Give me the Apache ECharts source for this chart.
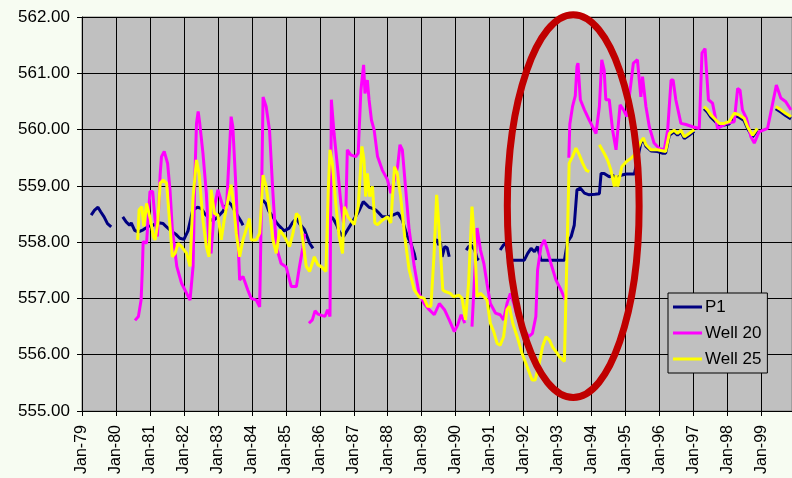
<!DOCTYPE html>
<html>
<head>
<meta charset="utf-8">
<script src="https://cdn.jsdelivr.net/npm/echarts/dist/echarts.min.js"></script>
<style>
  html, body { margin: 0; padding: 0; background: #f7fcf2; }
  #chart { width: 792px; height: 478px; }
</style>
</head>
<body>
<div id="chart"></div>
<script>
// Water levels (ft) against time in decimal years; null marks a break in the record.
const yearLabels = ['Jan-79','Jan-80','Jan-81','Jan-82','Jan-83','Jan-84','Jan-85','Jan-86','Jan-87','Jan-88',
  'Jan-89','Jan-90','Jan-91','Jan-92','Jan-93','Jan-94','Jan-95','Jan-96','Jan-97','Jan-98','Jan-99'];

const p1Years = [
  1979.27,1979.37,1979.47,1979.55,1979.65,1979.75,1979.86,1980.0,
  1980.20,1980.30,1980.40,1980.45,1980.55,1980.65,1980.80,1980.95,1981.10,1981.20,1981.39,1981.49,1981.62,1981.78,1981.88,
  1982.00,1982.12,1982.26,1982.40,1982.51,1982.62,1982.75,1982.85,1983.00,1983.15,1983.30,1983.40,1983.55,1983.69,1983.74,1984.0,
  1984.32,1984.42,1984.50,1984.62,1984.72,1984.82,1984.95,1985.10,1985.20,1985.31,1985.40,1985.55,1985.70,1985.80,1986.1,
  1986.35,1986.42,1986.50,1986.57,1986.64,1986.70,1986.85,1987.00,1987.15,1987.28,1987.35,1987.45,1987.55,1987.65,1987.75,1987.84,
  1988.00,1988.15,1988.30,1988.43,1988.50,1988.58,1988.68,1988.78,1988.82,1989.1,
  1989.36,1989.45,1989.50,1989.55,1989.60,1989.68,1989.75,1989.81,1990.0,
  1990.31,1990.38,1990.45,1990.56,1990.63,1990.68,1991.0,
  1991.31,1991.41,1991.48,1991.56,1991.71,1991.85,1992.02,1992.12,1992.22,1992.32,1992.41,1992.51,1992.76,1993.00,1993.20,
  1993.29,1993.40,1993.49,1993.57,1993.67,1993.79,1993.93,1994.10,1994.23,1994.28,1994.37,1994.52,1994.62,1994.72,1994.87,
  1995.02,1995.26,1995.31,1995.45,1995.53,1995.60,1995.75,1995.94,1996.10,1996.18,
  1996.29,1996.43,1996.53,1996.63,1996.73,1996.87,1997.02,1997.15,
  1997.31,1997.41,1997.51,1997.66,1997.76,1997.90,1998.05,1998.20,1998.34,1998.49,1998.59,1998.74,1998.88,1999.1,
  1999.42,1999.57,1999.71,1999.87
];
const p1Levels = [
  558.48,558.57,558.62,558.54,558.45,558.33,558.27,null,
  558.45,558.36,558.30,558.34,558.21,558.18,558.22,558.28,558.30,558.35,558.33,558.27,558.20,558.13,558.07,
  558.05,558.20,558.57,558.62,558.60,558.50,558.42,558.38,558.45,558.55,558.72,558.66,558.50,558.36,558.30,null,
  558.75,558.68,558.55,558.45,558.35,558.28,558.20,558.25,558.35,558.42,558.33,558.22,557.98,557.89,null,
  558.45,558.39,558.30,558.19,558.13,558.10,558.25,558.40,558.55,558.72,558.68,558.62,558.60,558.57,558.51,558.45,
  558.45,558.48,558.52,558.39,558.25,558.10,557.98,557.80,557.68,null,
  557.98,558.05,557.95,558.01,557.74,557.92,557.90,557.74,null,
  557.86,557.92,557.95,557.86,557.71,557.68,null,
  557.86,557.95,557.98,557.68,557.68,557.68,557.68,557.80,557.89,557.83,557.92,557.68,557.68,557.68,557.68,
  558.00,558.10,558.30,558.93,558.96,558.87,558.84,558.85,558.86,559.22,559.22,559.16,559.19,559.13,559.19,
  559.21,559.21,559.21,559.76,559.82,559.70,559.62,559.61,559.58,559.58,
  559.90,559.96,559.90,559.96,559.84,559.90,559.97,null,
  560.37,560.31,560.22,560.13,560.08,560.08,560.10,560.25,560.22,560.16,560.02,559.87,559.99,null,
  560.37,560.31,560.25,560.19
];

const well20Years = [
  1980.56,1980.66,1980.74,1980.78,1980.80,1980.90,1980.95,1981.00,1981.08,1981.15,1981.22,1981.30,1981.34,1981.42,1981.52,
  1981.59,1981.66,1981.79,1981.93,1982.08,1982.18,1982.27,1982.32,1982.37,1982.42,1982.46,1982.56,1982.66,1982.74,1982.80,
  1982.90,1983.00,1983.15,1983.25,1983.39,1983.44,1983.54,1983.64,1983.74,1983.88,1983.98,1984.13,1984.23,1984.28,1984.33,
  1984.42,1984.52,1984.62,1984.72,1984.86,1985.01,1985.16,1985.31,1985.40,1985.50,1985.55,1985.62,
  1985.68,1985.78,1985.86,1985.95,1986.05,1986.15,1986.23,1986.30,1986.34,1986.42,1986.52,1986.62,1986.70,1986.77,1986.81,
  1986.91,1987.06,1987.13,1987.21,1987.29,1987.33,1987.40,1987.45,1987.52,1987.60,1987.70,1987.84,1987.99,1988.09,1988.17,
  1988.29,1988.36,1988.43,1988.53,1988.63,1988.78,1988.92,1989.07,1989.22,1989.37,1989.52,1989.67,1989.81,1989.96,1990.06,
  1990.16,1990.27,1990.38,
  1990.48,1990.63,1990.73,1990.83,1990.92,1991.02,1991.17,1991.31,1991.41,1991.51,1991.61,1991.71,1991.81,1991.95,1992.15,
  1992.26,1992.36,1992.41,1992.51,1992.61,1992.70,1992.80,1992.95,1993.10,1993.22,1993.28,
  1993.33,1993.36,1993.44,1993.52,1993.57,1993.60,1993.67,1993.79,1993.93,1994.13,1994.23,1994.30,1994.37,1994.42,1994.52,
  1994.62,1994.72,1994.84,1994.94,1995.04,1995.23,1995.35,1995.45,1995.50,1995.60,1995.70,1995.84,1996.00,1996.14,1996.24,
  1996.34,1996.40,1996.48,1996.63,1996.78,1996.97,1997.17,1997.25,1997.34,1997.44,1997.56,1997.71,1997.96,1998.20,1998.30,
  1998.37,1998.44,1998.56,1998.69,1998.79,1998.93,1999.18,1999.44,1999.57,1999.71,1999.87
];
const well20Levels = [
  556.61,556.68,556.97,557.57,558.01,557.98,557.97,558.90,558.90,558.40,558.10,559.20,559.52,559.61,559.40,
  558.93,558.22,557.57,557.27,557.09,556.97,557.57,559.10,560.11,560.32,560.14,559.58,558.87,557.92,557.80,
  558.63,558.93,558.63,558.57,560.23,560.05,558.87,557.33,557.39,557.15,557.00,556.97,556.85,558.63,560.58,
  560.41,559.99,558.87,557.92,557.62,557.56,557.21,557.21,557.56,557.90,558.15,null,
  556.56,556.62,556.78,556.72,556.70,556.68,556.80,556.68,560.53,559.93,559.34,558.69,558.34,558.63,559.64,
  559.55,559.52,559.58,560.70,561.15,560.64,560.88,560.53,560.17,559.99,559.52,559.28,559.11,558.87,559.05,
  559.34,559.73,559.64,558.93,558.22,557.57,557.09,556.91,556.80,556.71,556.91,556.80,556.62,556.41,556.53,
  556.71,556.56,null,
  556.50,558.25,557.86,557.62,557.27,556.91,556.74,556.71,556.62,556.91,557.09,556.91,556.68,556.50,556.32,
  556.38,556.68,557.50,557.92,558.04,557.86,557.63,557.33,557.15,556.98,null,
  559.50,560.10,560.41,560.60,561.12,561.18,560.53,560.35,560.17,559.93,560.41,561.24,561.06,560.53,560.53,
  559.99,559.64,560.44,560.35,560.23,561.18,561.24,560.58,560.94,560.41,560.05,559.76,559.66,559.64,559.99,
  560.88,560.88,560.53,560.11,560.09,560.05,560.02,561.36,561.44,560.53,560.47,560.02,560.11,560.14,560.73,
  560.70,560.35,560.20,559.87,559.76,559.96,560.02,560.79,560.56,560.50,560.35
];

const well25Years = [
  1980.64,1980.68,1980.76,1980.82,1980.90,1980.95,1981.02,1981.10,1981.15,1981.23,1981.30,1981.39,1981.49,1981.56,1981.66,
  1981.74,1981.83,1981.93,1982.08,1982.18,1982.27,1982.37,1982.45,1982.56,1982.66,1982.74,1982.80,1982.90,1983.00,1983.10,
  1983.20,1983.30,1983.39,1983.46,1983.54,1983.64,1983.74,1983.83,1983.93,1983.98,1984.13,1984.23,1984.33,1984.42,1984.52,
  1984.62,1984.72,1984.82,1984.96,1985.11,1985.21,1985.31,1985.40,1985.50,1985.60,1985.70,1985.84,1985.94,1986.05,1986.18,
  1986.25,1986.30,1986.37,1986.47,1986.57,1986.67,1986.72,1986.83,1987.01,1987.13,1987.24,1987.30,1987.35,1987.40,1987.47,
  1987.55,1987.62,1987.70,1987.84,1987.99,1988.09,1988.20,1988.28,1988.38,1988.50,1988.63,1988.78,1988.92,1989.07,1989.17,
  1989.27,1989.36,1989.44,1989.48,1989.55,1989.62,1989.70,1989.84,1989.94,1990.09,1990.19,1990.29,1990.38,1990.48,1990.56,
  1990.63,1990.73,1990.83,1990.92,1991.02,1991.12,1991.22,1991.31,1991.41,1991.51,1991.58,1991.68,1991.81,1991.95,1992.10,
  1992.25,1992.34,1992.46,1992.56,1992.66,1992.76,1992.85,1993.05,1993.20,1993.25,1993.31,1993.34,1993.44,1993.54,1993.64,
  1993.74,1993.84,1993.93,1994.08,
  1994.23,1994.37,1994.47,1994.57,1994.67,1994.72,1994.77,1994.89,1995.02,1995.16,1995.31,1995.45,1995.53,1995.60,1995.75,
  1995.94,1996.18,1996.29,1996.43,1996.53,1996.63,1996.73,1996.87,1997.02,1997.15,
  1997.31,1997.41,1997.51,1997.66,1997.76,1997.90,1998.05,1998.20,1998.34,1998.49,1998.59,1998.74,1998.88,1999.1,
  1999.42,1999.57,1999.71,1999.87
];
const well25Levels = [
  558.04,558.57,558.63,558.28,558.69,558.72,558.39,558.10,558.04,558.34,559.05,559.10,559.05,558.51,557.74,
  557.80,557.98,557.92,557.80,557.57,558.81,559.46,559.20,558.39,557.92,557.74,558.93,558.51,558.48,558.04,
  558.45,558.75,559.02,558.69,558.16,557.74,558.04,558.22,558.42,558.04,558.04,558.16,559.19,558.99,558.57,
  558.04,557.80,558.22,558.10,557.92,558.16,558.51,558.45,558.04,557.57,557.48,557.74,557.60,557.56,557.48,
  558.93,559.64,559.40,558.69,558.10,557.80,558.63,558.45,558.31,558.63,559.70,559.46,558.81,559.22,558.81,
  558.99,558.34,558.31,558.39,558.45,558.34,559.34,559.22,558.81,558.10,557.51,557.15,557.03,557.00,556.86,
  556.86,557.74,558.84,558.51,557.86,557.15,557.12,557.09,557.03,557.06,557.00,556.62,557.27,558.63,557.98,
  557.03,557.09,557.03,556.97,556.56,556.41,556.20,556.17,556.32,556.80,556.86,556.56,556.32,556.03,555.79,
  555.55,555.55,555.85,556.15,556.32,556.26,556.14,555.97,555.88,555.90,558.63,559.40,559.52,559.67,559.55,
  559.40,559.28,559.25,null,
  559.73,559.58,559.46,559.28,558.99,559.19,558.99,559.34,559.43,559.49,559.58,559.79,559.85,559.73,559.64,
  559.64,559.61,559.93,559.99,559.93,559.99,559.87,559.93,560.00,null,
  560.41,560.35,560.26,560.17,560.11,560.11,560.14,560.29,560.26,560.20,560.05,559.90,560.02,null,
  560.41,560.35,560.29,560.23
];

const pair = (xs, ys) => xs.map((x, i) => [x, ys[i]]);
const FONT = "'Liberation Sans', Arial, sans-serif";

const chart = echarts.init(document.getElementById('chart'), null, { renderer: 'canvas' });

function lineSeries(name, color, xs, ys) {
  return {
    name, type: 'line', data: pair(xs, ys),
    showSymbol: false, symbol: 'none', connectNulls: false,
    lineStyle: { color, width: 3 }, itemStyle: { color },
    emphasis: { disabled: true }, animation: false
  };
}

chart.setOption({
  backgroundColor: '#f7fcf2',
  animation: false,
  grid: {
    left: 82, top: 17, right: -1, bottom: 67,
    show: true, backgroundColor: '#c0c0c0', borderColor: '#808080', borderWidth: 1
  },
  xAxis: {
    type: 'value', min: 1979, max: 1999.9, interval: 1,
    axisLine: { lineStyle: { color: '#000', width: 1 } },
    axisTick: { show: true, length: 5, lineStyle: { color: '#000' } },
    splitLine: { show: true, lineStyle: { color: '#000', width: 1 } },
    axisLabel: {
      rotate: 90, margin: 14, color: '#000', fontFamily: FONT, fontSize: 16,
      formatter: v => Number.isInteger(v) ? yearLabels[v - 1979] : ''
    }
  },
  yAxis: {
    type: 'value', min: 555, max: 562, interval: 1,
    axisLine: { show: true, lineStyle: { color: '#000', width: 1 } },
    axisTick: { show: true, length: 5, lineStyle: { color: '#000' } },
    splitLine: { show: true, lineStyle: { color: '#000', width: 1 } },
    axisLabel: { margin: 12, color: '#000', fontFamily: FONT, fontSize: 17, formatter: v => v.toFixed(2) }
  },
  legend: {
    orient: 'vertical', left: 668, top: 293,
    icon: 'rect', itemWidth: 29, itemHeight: 3, itemGap: 6,
    padding: [4, 6, 4, 5],
    backgroundColor: '#c0c0c0', borderColor: '#000', borderWidth: 1, borderRadius: 0,
    textStyle: { color: '#000', fontFamily: FONT, fontSize: 17, lineHeight: 20, padding: [0, 0, 0, -2] },
    data: ['P1', 'Well 20', 'Well 25']
  },
  series: [
    lineSeries('P1', '#000080', p1Years, p1Levels),
    lineSeries('Well 20', '#ff00ff', well20Years, well20Levels),
    lineSeries('Well 25', '#ffff00', well25Years, well25Levels)
  ]
});

// Red ring highlighting the 1992-1995 recovery, placed in data space
const c = chart.convertToPixel({ gridIndex: 0 }, [1993.46, 558.64]);
const e = chart.convertToPixel({ gridIndex: 0 }, [1995.40, 562.04]);
chart.setOption({
  graphic: [{
    type: 'ellipse', z: 100, silent: true,
    shape: { cx: c[0], cy: c[1], rx: e[0] - c[0], ry: c[1] - e[1] },
    style: { fill: null, stroke: '#c00000', lineWidth: 7 }
  }]
});
</script>
</body>
</html>
